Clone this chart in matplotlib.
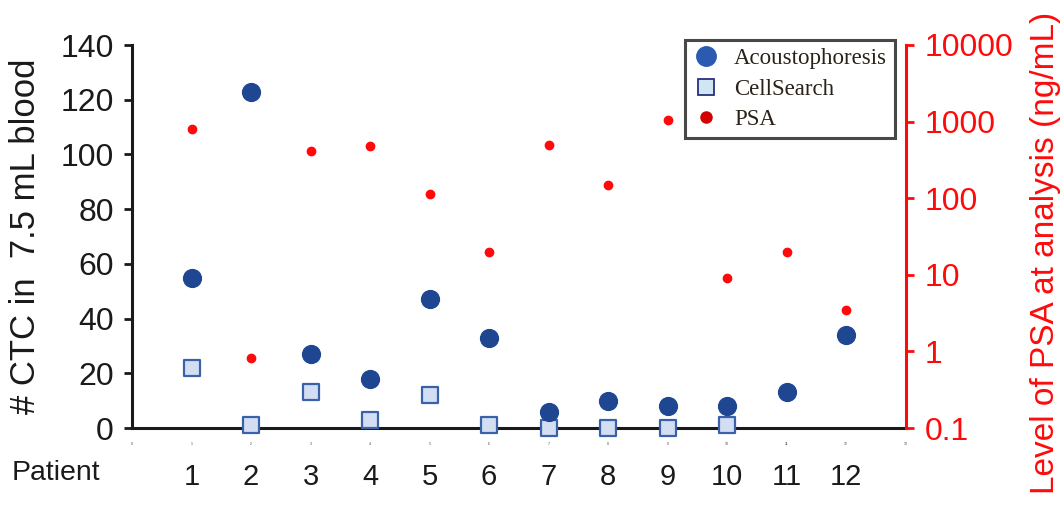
"""CTC counts per patient (acoustophoresis vs CellSearch) with PSA level on a log twin axis."""

import numpy as np
import matplotlib
matplotlib.use("Agg")
import matplotlib.pyplot as plt
from matplotlib.lines import Line2D
from matplotlib.transforms import blended_transform_factory

plt.rcParams["font.family"] = ["Liberation Sans", "DejaVu Sans"]

patients = list(range(1, 13))
acoustophoresis = [55, 123, 27, 18, 47, 33, 6, 10, 8, 8, 13, 34]
cellsearch = [22, 1, 13, 3, 12, 1, 0, 0, 0, 1, np.nan, np.nan]
psa = [790, 0.82, 410, 475, 112, 20, 500, 150, 1065, 9, 20, 3.5]

ctc_ticks = [0, 20, 40, 60, 80, 100, 120, 140]
psa_ticks = [0.1, 1, 10, 100, 1000, 10000]
psa_ticklabels = ["0.1", "1", "10", "100", "1000", "10000"]

BLUE = "#1f4690"
SQ_FILL = "#d4def2"
SQ_EDGE = "#3a62a8"
RED = "#ff0a0a"
INK = "#1a1a1a"

fig = plt.figure(figsize=(10.64, 5.19), dpi=100)
ax = fig.add_axes([132 / 1064, 91 / 519, 773.5 / 1064, 383 / 519])
ax2 = ax.twinx()

ax.scatter(patients, cellsearch, marker="s", s=125, facecolor=SQ_FILL, edgecolor=SQ_EDGE,
           linewidth=1.6, zorder=5, clip_on=False)
ax.scatter(patients, acoustophoresis, marker="o", s=165, color=BLUE, zorder=6, clip_on=False)
ax2.scatter(patients, psa, marker="o", s=36, color=RED, zorder=6, clip_on=False)

ax.set_xlim(0, 13)
ax.set_ylim(0, 140)
ax2.set_yscale("log")
ax2.set_ylim(0.1, 10000)

# left axis
ax.set_yticks(ctc_ticks)
ax.tick_params(axis="y", direction="out", length=6, width=2, pad=7, labelsize=23,
               colors=INK)
ax.set_ylabel("# CTC in  7.5 mL blood", fontsize=25, color=INK)
ax.yaxis.set_label_coords(-0.116, 0.5)

# bottom axis: only tiny leftover tick labels 0..13 (they read as dots)
ax.set_xticks(range(14))
ax.set_xticklabels([str(i) for i in range(14)])
ax.tick_params(axis="x", length=0, pad=10, labelsize=2.5, labelcolor="#444444")

for side in ("top", "right"):
    ax.spines[side].set_visible(False)
for side in ("left", "bottom"):
    ax.spines[side].set_linewidth(2.2)
    ax.spines[side].set_color(INK)

# right (PSA) axis
for side in ("top", "left", "bottom"):
    ax2.spines[side].set_visible(False)
ax2.spines["right"].set_color(RED)
ax2.spines["right"].set_linewidth(2.2)
ax2.set_yticks(psa_ticks)
ax2.set_yticklabels(psa_ticklabels)
ax2.minorticks_off()
ax2.tick_params(axis="y", direction="out", length=6, width=2, pad=8, labelsize=23,
                colors=RED)
ax2.set_ylabel("Level of PSA at analysis (ng/mL)", fontsize=24, color=RED)
ax2.yaxis.set_label_coords(1.161, 0.457)

# patient numbers row
trans = blended_transform_factory(ax.transData, ax.transAxes)
for p in patients:
    ax.text(p, -0.128, str(p), transform=trans, ha="center", va="center",
            fontsize=21, color=INK)
fig.text(12 / 1064, 1 - 473 / 519, "Patient", ha="left", va="center", fontsize=20.5,
         color=INK)

handles = [
    Line2D([], [], linestyle="none", marker="o", markersize=14, color="#2a5bb0"),
    Line2D([], [], linestyle="none", marker="s", markersize=12, markerfacecolor="#cfe6f3",
           markeredgecolor="#2a2f80", markeredgewidth=1.3),
    Line2D([], [], linestyle="none", marker="o", markersize=8, color="#d40000"),
]
leg = ax2.legend(handles, ["Acoustophoresis", "CellSearch", "PSA"], loc="upper left",
                 bbox_to_anchor=(685 / 1064, 1 - 40 / 519), bbox_transform=fig.transFigure,
                 prop={"family": "Liberation Serif", "size": 16.5}, frameon=True,
                 fancybox=False, borderaxespad=0, borderpad=0.35, labelspacing=0.42,
                 handlelength=1.1, handletextpad=0.7)
leg.get_frame().set_edgecolor("#1a1a1a")
leg.get_frame().set_linewidth(2.2)
for t in leg.get_texts():
    t.set_color("#2a2218")

fig.savefig("out.png", dpi=100)
